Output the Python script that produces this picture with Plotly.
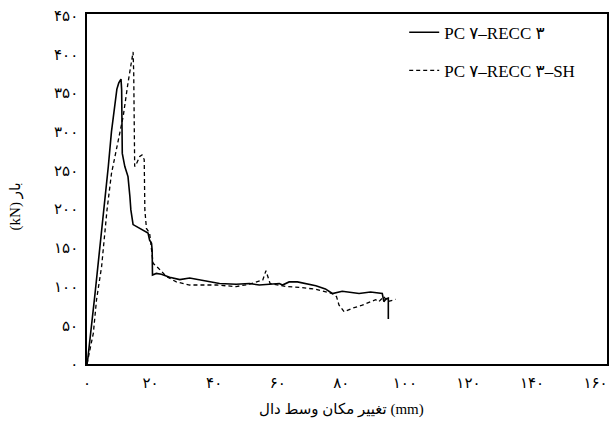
import plotly.graph_objects as go

# ---- data ----
x_solid = [0, 0.2, 2.5, 4.1, 5.5, 6.7, 7.7, 8.8, 9.4, 10.0, 10.7, 10.9, 10.9, 11.1, 11.9, 12.9,
           13.5, 13.8, 14.5, 17.6, 19.2, 19.7, 20.3, 20.5, 20.6, 21.8, 23.4, 26.0, 29.2, 32.3,
           35.4, 38.6, 41.7, 46.9, 51.1, 54.2, 57.5, 60.5, 61.5, 63.6, 66.2, 69.4, 72.0, 75.0,
           77.2, 80.3, 83.0, 85.6, 89.2, 92.9, 93.4, 94.0, 94.8, 94.8]
y_solid = [0, 5, 90, 150, 205, 255, 300, 338, 355, 363, 368, 354, 315, 272, 255, 242,
           216, 199, 180, 173, 169, 160, 156, 147, 115, 117, 116, 112, 109, 111,
           109, 106, 104, 103, 104, 102, 103, 104, 102, 106, 106, 103, 101, 97,
           91, 94, 92, 91, 93, 91, 80.5, 84, 85, 58]

x_dash = [0, 0.4, 2.0, 3.0, 4.6, 5.6, 6.3, 7.7, 9.8, 11.4, 12.9, 14.5, 14.7, 15.0, 15.6, 16.6,
          17.3, 18.0, 18.2, 18.7, 19.7, 20.8, 22.4, 25.0, 28.1, 32.3, 40.7, 46.9, 51.1, 55.3,
          56.3, 56.8, 57.6, 62.6, 66.8, 72.0, 77.2, 78.5, 79.3, 80.9, 83.5, 86.6, 90.8, 91.8,
          93.4, 94.5, 97.1]
y_dash = [0, 9, 40, 83, 126, 169, 199, 246, 289, 320, 363, 403, 376, 255, 259, 268,
          270, 264, 199, 175, 169, 130, 124, 113, 106, 102, 102, 100, 103, 108.5,
          120.5, 115, 104, 100, 99, 96.5, 91, 87, 76, 67.5, 72, 76, 83, 80.5,
          87, 80.5, 83.5]

series_names = ["PC ۷–RECC ۳", "PC ۷–RECC ۳–SH"]
x_ticks = [0, 20, 40, 60, 80, 100, 120, 140, 160]
y_ticks = [0, 50, 100, 150, 200, 250, 300, 350, 400, 450]
x_title = "تغییر مکان وسط دال (mm)"
y_title = "(kN) بار"

FA = str.maketrans("0123456789", "۰۱۲۳۴۵۶۷۸۹")
def fa(v):
    return str(v).translate(FA)

FONT = "Liberation Serif, Times New Roman, DejaVu Sans, serif"

fig = go.Figure()
fig.add_trace(go.Scatter(x=x_solid, y=y_solid, mode="lines", name=series_names[0],
                         legendgroup="a",
                         line=dict(color="black", width=1.6, dash="solid")))
fig.add_trace(go.Scatter(x=x_dash, y=y_dash, mode="lines", name=series_names[1],
                         legendgroup="b",
                         line=dict(color="black", width=1.3, dash="4px,3px")))

axis_common = dict(showline=True, linecolor="black", linewidth=1.6, mirror=True,
                   showgrid=False, zeroline=False, ticks="",
                   tickfont=dict(family=FONT, size=15, color="black"))

fig.update_xaxes(range=[0, 163.6], tickvals=x_ticks, ticktext=[fa(v) for v in x_ticks],
                 ticklabelstandoff=4, **axis_common)
fig.update_yaxes(range=[0, 452], tickvals=y_ticks, ticktext=[fa(v) for v in y_ticks],
                 ticklabelstandoff=4, **axis_common)

fig.update_layout(
    width=614, height=423,
    margin=dict(l=87, r=5, t=14, b=59),
    paper_bgcolor="white", plot_bgcolor="white",
    font=dict(family=FONT, color="black"),
    showlegend=True,
    legend=dict(x=0.61, y=0.998, xanchor="left", yanchor="top",
                bgcolor="rgba(0,0,0,0)", borderwidth=0,
                font=dict(family=FONT, size=17, color="black"),
                tracegroupgap=13, itemwidth=30),
    annotations=[
        dict(text=x_title, xref="paper", yref="paper", x=0.49, y=-0.131,
             xanchor="center", yanchor="middle", showarrow=False,
             font=dict(family=FONT, size=15, color="black")),
        dict(text=y_title, xref="paper", yref="paper", x=-0.138, y=0.451,
             xanchor="center", yanchor="middle", showarrow=False, textangle=-90,
             font=dict(family=FONT, size=15, color="black")),
    ],
)

fig.write_html("out.html")
